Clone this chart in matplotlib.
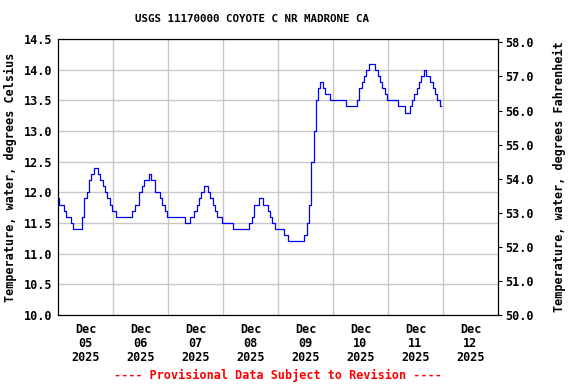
import numpy as np
import matplotlib
matplotlib.use("Agg")
import matplotlib.pyplot as plt

# hourly water temperature, deg C (Dec 05 00:00 .. Dec 11 23:00)
dec05 = [11.9, 11.8, 11.8, 11.7, 11.6, 11.6, 11.5, 11.4, 11.4, 11.4, 11.4, 11.6,
         11.9, 12.0, 12.2, 12.3, 12.4, 12.4, 12.3, 12.2, 12.1, 12.0, 11.9, 11.8]
dec06 = [11.7, 11.7, 11.6, 11.6, 11.6, 11.6, 11.6, 11.6, 11.6, 11.7, 11.8, 11.8,
         12.0, 12.1, 12.2, 12.2, 12.3, 12.2, 12.2, 12.0, 12.0, 11.9, 11.8, 11.7]
dec07 = [11.6, 11.6, 11.6, 11.6, 11.6, 11.6, 11.6, 11.6, 11.5, 11.5, 11.6, 11.6,
         11.7, 11.8, 11.9, 12.0, 12.1, 12.1, 12.0, 11.9, 11.8, 11.7, 11.6, 11.6]
dec08 = [11.5, 11.5, 11.5, 11.5, 11.5, 11.4, 11.4, 11.4, 11.4, 11.4, 11.4, 11.4,
         11.5, 11.6, 11.8, 11.8, 11.9, 11.9, 11.8, 11.8, 11.7, 11.6, 11.5, 11.4]
dec09 = [11.4, 11.4, 11.4, 11.3, 11.3, 11.2, 11.2, 11.2, 11.2, 11.2, 11.2, 11.2,
         11.3, 11.5, 11.8, 12.5, 13.0, 13.5, 13.7, 13.8, 13.7, 13.6, 13.6, 13.5]
dec10 = [13.5, 13.5, 13.5, 13.5, 13.5, 13.5, 13.4, 13.4, 13.4, 13.4, 13.4, 13.5,
         13.7, 13.8, 13.9, 14.0, 14.1, 14.1, 14.1, 14.0, 13.9, 13.8, 13.7, 13.6]
dec11 = [13.5, 13.5, 13.5, 13.5, 13.5, 13.4, 13.4, 13.4, 13.3, 13.3, 13.4, 13.5,
         13.6, 13.7, 13.8, 13.9, 14.0, 13.9, 13.9, 13.8, 13.7, 13.6, 13.5, 13.4]

day_labels = ["Dec\n05\n2025", "Dec\n06\n2025", "Dec\n07\n2025", "Dec\n08\n2025",
              "Dec\n09\n2025", "Dec\n10\n2025", "Dec\n11\n2025", "Dec\n12\n2025"]
c_ticks = [10.0, 10.5, 11.0, 11.5, 12.0, 12.5, 13.0, 13.5, 14.0, 14.5]
f_ticks = [50.0, 51.0, 52.0, 53.0, 54.0, 55.0, 56.0, 57.0, 58.0]

temp_c = np.array(dec05 + dec06 + dec07 + dec08 + dec09 + dec10 + dec11)
t_days = np.arange(len(temp_c)) / 24.0

plt.rcParams['font.family'] = ['DejaVu Sans Mono']
plt.rcParams['font.weight'] = 'bold'

fig = plt.figure(figsize=(5.76, 3.84), dpi=100)
ax = fig.add_axes([58 / 576, 1 - 315 / 384, 440 / 576, 276 / 384])

ax.plot(t_days, temp_c, color='#0000ff', lw=0.9, drawstyle='steps-mid', zorder=3)

ax.set_xlim(0, 8)
ax.set_ylim(10.0, 14.5)
ax.set_yticks(c_ticks)
ax.set_yticklabels(["%.1f" % v for v in c_ticks], fontsize=8.5, fontweight='bold')

# gridlines at midnight, labels at noon
ax.set_xticks(np.arange(1, 8))
ax.set_xticklabels([])
ax.set_xticks(np.arange(len(day_labels)) + 0.5, minor=True)
ax.set_xticklabels(day_labels, minor=True, fontsize=8.5, fontweight='bold', linespacing=1.1)
ax.tick_params(axis='x', which='both', length=0, pad=6)
ax.tick_params(axis='y', length=0, pad=4)
ax.grid(True, which='major', color='#c8c8c8', lw=1.0)
ax.set_axisbelow(True)

ax.set_ylabel("Temperature, water, degrees Celsius", fontsize=8.5, fontweight='bold', labelpad=5)

ax2 = ax.twinx()
ax2.set_ylim(10.0 * 1.8 + 32, 14.5 * 1.8 + 32)
ax2.set_yticks(f_ticks)
ax2.set_yticklabels(["%.1f" % v for v in f_ticks], fontsize=8.5, fontweight='bold')
ax2.tick_params(axis='y', length=3, pad=2)
ax2.set_ylabel("Temperature, water, degrees Fahrenheit", fontsize=8.5, fontweight='bold',
               labelpad=14)

fig.text(252 / 576, 1 - 19 / 384, "USGS 11170000 COYOTE C NR MADRONE CA",
         ha='center', va='center', fontsize=7.8, fontweight='bold')
fig.text(278 / 576, 1 - 375 / 384, "---- Provisional Data Subject to Revision ----",
         ha='center', va='center', fontsize=8.5, fontweight='bold', color='red')

fig.savefig("out.png", dpi=100)
